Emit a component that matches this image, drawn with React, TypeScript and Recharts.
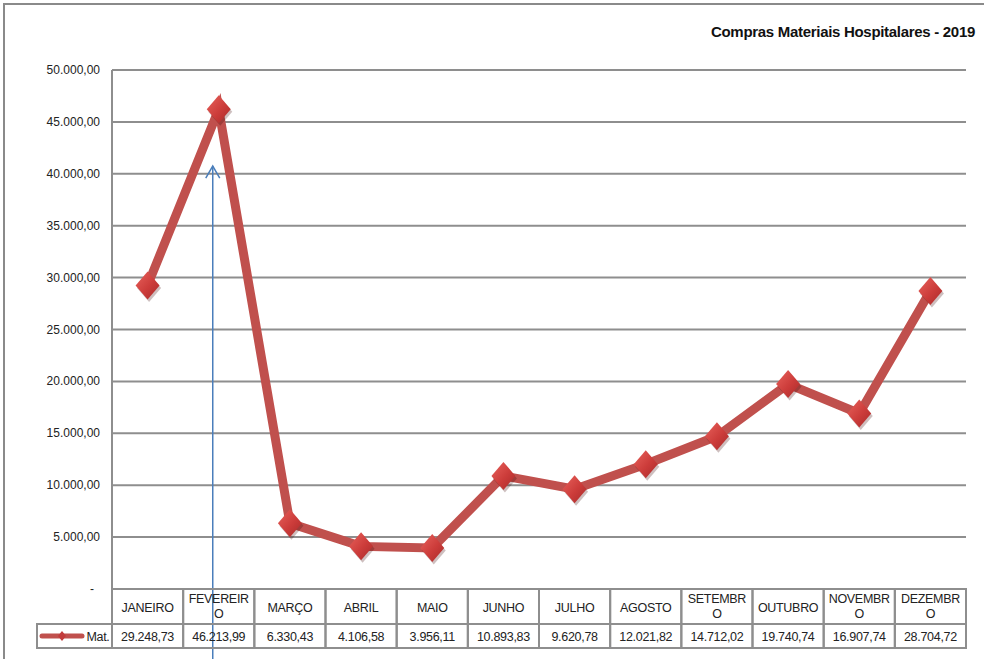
import { CartesianGrid, Line, LineChart, ReferenceLine, XAxis, YAxis } from "recharts";

const months = [
  "JANEIRO",
  "FEVEREIR\nO",
  "MARÇO",
  "ABRIL",
  "MAIO",
  "JUNHO",
  "JULHO",
  "AGOSTO",
  "SETEMBR\nO",
  "OUTUBRO",
  "NOVEMBR\nO",
  "DEZEMBR\nO",
];
const matValues = [
  29248.73, 46213.99, 6330.43, 4106.58, 3956.11, 10893.83, 9620.78, 12021.82, 14712.02, 19740.74,
  16907.74, 28704.72,
];
const yTicks = [0, 5000, 10000, 15000, 20000, 25000, 30000, 35000, 40000, 45000, 50000];

const data = months.map((m, i) => ({ month: m, mat: matValues[i] }));

const W = 984;
const H = 659;
const MARGIN = { top: 70, right: 18, left: 12, bottom: 10 };
const Y_AXIS_W = 100;
const PLOT_W = W - MARGIN.left - MARGIN.right - Y_AXIS_W;
const COL_W = PLOT_W / months.length;
const GRID = "#8e8e8e";
const RED = "#C0504D";
const FONT = "'Liberation Sans', Arial, sans-serif";

function fmt(v: number): string {
  const [i, d] = v.toFixed(2).split(".");
  return i.replace(/\B(?=(\d{3})+(?!\d))/g, ".") + "," + d;
}

function YTick(props: any) {
  const { y, payload } = props;
  const v = payload.value as number;
  return (
    <text x={v === 0 ? 94 : 100} y={y + 4} textAnchor="end" fontSize={12} fill="#222" fontFamily={FONT}>
      {v === 0 ? "-" : fmt(v)}
    </text>
  );
}

function TableTick(props: any) {
  const { x, y, payload } = props;
  const i = payload.index ?? props.index;
  const lines = String(payload.value).split("\n");
  const r1 = 35;
  const r2 = 24;
  const left = x - COL_W / 2;
  const legendW = 75;
  return (
    <g fontFamily={FONT} fontSize={12.5} fill="#222" letterSpacing={-0.3}>
      <rect x={left} y={y} width={COL_W} height={r1} fill="none" stroke={GRID} strokeWidth={2} />
      <rect x={left} y={y + r1} width={COL_W} height={r2} fill="none" stroke={GRID} strokeWidth={2} />
      {lines.length === 1 ? (
        <text x={x} y={y + r1 / 2 + 5} textAnchor="middle">
          {lines[0]}
        </text>
      ) : (
        lines.map((l, k) => (
          <text key={k} x={x} y={y + 14 + k * 15} textAnchor="middle">
            {l}
          </text>
        ))
      )}
      <text x={x} y={y + r1 + r2 / 2 + 5} textAnchor="middle">
        {fmt(matValues[i])}
      </text>
      {i === 0 && (
        <g>
          <rect x={left - legendW} y={y + r1} width={legendW} height={r2} fill="none" stroke={GRID} strokeWidth={2} />
          <line
            x1={left - legendW + 5}
            x2={left - legendW + 45}
            y1={y + r1 + r2 / 2}
            y2={y + r1 + r2 / 2}
            stroke={RED}
            strokeWidth={5}
            strokeLinecap="round"
          />
          <path
            d={`M${left - legendW + 25},${y + r1 + r2 / 2 - 5} l4,5 l-4,5 l-4,-5 z`}
            fill="#c23b3b"
          />
          <text x={left - 14} y={y + r1 + r2 / 2 + 5} textAnchor="middle">
            Mat.
          </text>
        </g>
      )}
    </g>
  );
}

function Diamond(props: any) {
  const { cx, cy, index } = props;
  if (cx == null || cy == null) return null;
  const hw = 12;
  const hh = 14;
  const id = `dg${index}`;
  const d = (ox: number, oy: number) =>
    `M${cx + ox},${cy - hh + oy} L${cx + hw + ox},${cy + oy} L${cx + ox},${cy + hh + oy} L${cx - hw + ox},${cy + oy} Z`;
  return (
    <g key={id}>
      <defs>
        <linearGradient id={id} x1="0" y1="0" x2="1" y2="1">
          <stop offset="0%" stopColor="#e8625c" />
          <stop offset="55%" stopColor="#cc3c3a" />
          <stop offset="100%" stopColor="#a82a2a" />
        </linearGradient>
      </defs>
      <path d={d(1.5, 2.5)} fill="rgba(60,0,0,0.25)" />
      <path d={d(0, 0)} fill={`url(#${id})`} />
    </g>
  );
}

function Arrow(props: any) {
  const { x1, y1, y2 } = props;
  const x = x1 - 6;
  return (
    <g stroke="#4a7ebb" strokeWidth={1.5} fill="none">
      <line x1={x} y1={y1} x2={x} y2={y2} />
      <polyline points={`${x - 7},${y1 + 12} ${x},${y1} ${x + 7},${y1 + 12}`} />
    </g>
  );
}

export default function App() {
  return (
    <div style={{ position: "absolute", left: 0, top: 0, width: W, height: H, overflow: "hidden", background: "#fff" }}>
      <div
        style={{
          position: "absolute",
          left: 3,
          top: 3,
          width: W,
          height: H,
          borderLeft: "2px solid #8a8a8a",
          borderTop: "2px solid #8a8a8a",
        }}
      />
      <LineChart width={W} height={H} data={data} margin={MARGIN} style={{ position: "absolute", left: 0, top: 0 }}>
        <text
          x={975}
          y={37}
          textAnchor="end"
          fontSize={15}
          fontWeight="bold"
          fontFamily={FONT}
          fill="#111"
          letterSpacing={-0.3}
        >
          Compras Materiais Hospitalares - 2019
        </text>
        <CartesianGrid vertical={false} stroke={GRID} strokeWidth={2} />
        <XAxis
          dataKey="month"
          scale="band"
          height={60}
          axisLine={false}
          tickLine={false}
          tickSize={0}
          tickMargin={0}
          interval={0}
          tick={<TableTick />}
        />
        <YAxis
          domain={[0, 50000]}
          ticks={yTicks}
          width={Y_AXIS_W}
          axisLine={{ stroke: GRID, strokeWidth: 2 }}
          tickLine={false}
          tick={<YTick />}
        />
        <Line
          type="linear"
          dataKey="mat"
          stroke={RED}
          strokeWidth={9}
          dot={(p: any) => <Diamond key={p.index} {...p} />}
          activeDot={false}
          isAnimationActive={false}
        />
        <ReferenceLine
          segment={[
            { x: "FEVEREIR\nO", y: 40750 },
            { x: "FEVEREIR\nO", y: -6800 },
          ]}
          ifOverflow="visible"
          shape={<Arrow />}
        />
      </LineChart>
    </div>
  );
}
